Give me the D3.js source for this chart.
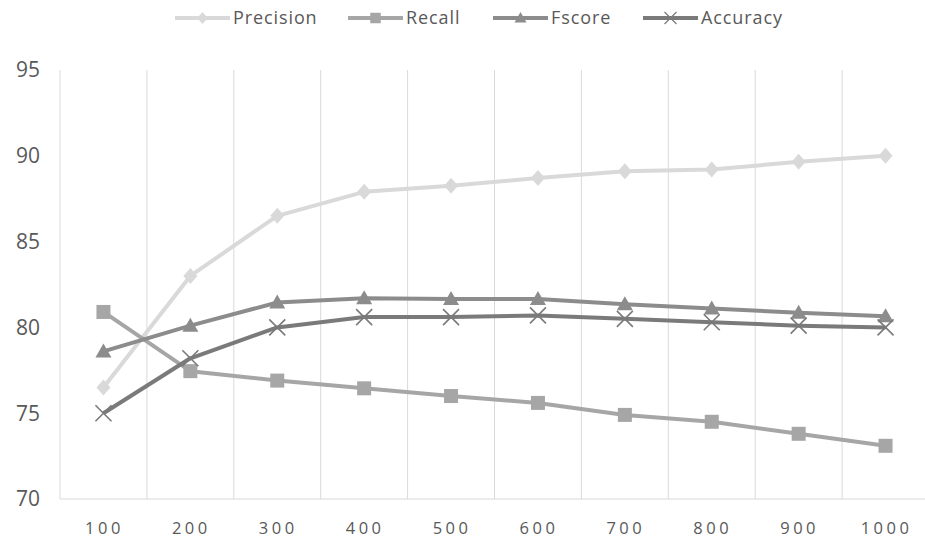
<!DOCTYPE html>
<html>
<head>
<meta charset="utf-8">
<script src="https://cdn.jsdelivr.net/npm/d3@7/dist/d3.min.js"></script>
<style>
  body { margin: 0; background: #fff; }
  svg { display: block; font-family: 'Open Sans', sans-serif; }
</style>
</head>
<body>
<svg id="chart" width="925" height="541"></svg>
<script>
const categories = ['100', '200', '300', '400', '500', '600', '700', '800', '900', '1000'];
const precision = [76.5, 83.0, 86.5, 87.9, 88.25, 88.7, 89.1, 89.2, 89.65, 90.0];
const recall = [80.9, 77.45, 76.9, 76.45, 76.0, 75.6, 74.9, 74.5, 73.8, 73.1];
const fscore = [78.6, 80.1, 81.45, 81.7, 81.65, 81.65, 81.35, 81.1, 80.85, 80.65];
const accuracy = [75.0, 78.2, 80.0, 80.6, 80.6, 80.7, 80.5, 80.3, 80.1, 80.0];
const yTicks = [70, 75, 80, 85, 90, 95];

const series = [
  { name: 'Precision', values: precision, color: '#d9d9d9', marker: 'diamond' },
  { name: 'Recall', values: recall, color: '#a6a6a6', marker: 'square' },
  { name: 'Fscore', values: fscore, color: '#8c8c8c', marker: 'triangle' },
  { name: 'Accuracy', values: accuracy, color: '#7a7a7a', marker: 'cross' }
];

const svg = d3.select('#chart');
const plotLeft = 60;
const plotRight = 929;
const plotTop = 70;
const plotBottom = 499;

const xScale = d3.scaleBand().domain(categories).range([plotLeft, plotRight]);
const yScale = d3.scaleLinear().domain([70, 95]).range([plotBottom, plotTop]);

// vertical gridlines at band edges
const edges = categories.map(c => xScale(c));
svg.append('g')
  .selectAll('line')
  .data(edges)
  .enter().append('line')
    .attr('x1', d => d)
    .attr('x2', d => d)
    .attr('y1', plotTop)
    .attr('y2', plotBottom)
    .attr('stroke', '#d9d9d9')
    .attr('stroke-width', 1);

// bottom axis line
svg.append('line')
  .attr('x1', plotLeft)
  .attr('x2', plotRight)
  .attr('y1', plotBottom)
  .attr('y2', plotBottom)
  .attr('stroke', '#d9d9d9')
  .attr('stroke-width', 1);

// y labels
svg.append('g')
  .selectAll('text')
  .data(yTicks)
  .enter().append('text')
    .attr('x', 40)
    .attr('y', d => yScale(d))
    .attr('dy', '0.35em')
    .attr('text-anchor', 'end')
    .attr('fill', '#595959')
    .attr('font-size', 21)
    .text(d => d);

// x labels
svg.append('g')
  .selectAll('text')
  .data(categories)
  .enter().append('text')
    .attr('x', d => xScale(d) + xScale.bandwidth() / 2 + 1)
    .attr('y', 528)
    .attr('dy', '0.35em')
    .attr('text-anchor', 'middle')
    .attr('fill', '#595959')
    .attr('font-size', 16.5)
    .attr('letter-spacing', 3.5)
    .text(d => d);

const cx = (d, i) => xScale(categories[i]) + xScale.bandwidth() / 2;

const line = d3.line()
  .x(cx)
  .y(d => yScale(d));

function drawMarker(g, type, color) {
  if (type === 'diamond') {
    g.append('path').attr('d', 'M0,-8L7,0L0,8L-7,0Z').attr('fill', color);
  } else if (type === 'square') {
    g.append('rect').attr('x', -7).attr('y', -7).attr('width', 14).attr('height', 14).attr('fill', color);
  } else if (type === 'triangle') {
    g.append('path').attr('d', 'M0,-8L8,6L-8,6Z').attr('fill', color);
  } else {
    g.append('path').attr('d', 'M-8,-8L8,8M-8,8L8,-8')
      .attr('stroke', color).attr('stroke-width', 1.6).attr('fill', 'none');
  }
}

series.forEach(s => {
  svg.append('path')
    .attr('d', line(s.values))
    .attr('fill', 'none')
    .attr('stroke', s.color)
    .attr('stroke-width', 4)
    .attr('stroke-linejoin', 'round');
});

series.forEach(s => {
  s.values.forEach((v, i) => {
    const g = svg.append('g').attr('transform', `translate(${cx(v, i)},${yScale(v)})`);
    drawMarker(g, s.marker, s.color);
  });
});

// legend
const legendX = [175, 348, 493, 643];
series.forEach((s, i) => {
  const g = svg.append('g').attr('transform', `translate(${legendX[i]},18)`);
  g.append('line').attr('x1', 0).attr('x2', 55).attr('stroke', s.color).attr('stroke-width', 4);
  const m = g.append('g').attr('transform', 'translate(27.5,0) scale(0.75)');
  drawMarker(m, s.marker, s.color);
  g.append('text')
    .attr('x', 58)
    .attr('dy', '0.35em')
    .attr('fill', '#595959')
    .attr('font-size', 18)
    .attr('letter-spacing', 0.9)
    .text(s.name);
});
</script>
</body>
</html>
